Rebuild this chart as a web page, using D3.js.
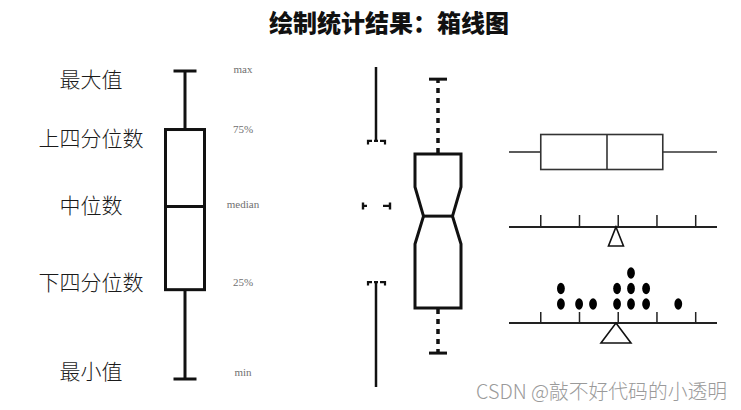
<!DOCTYPE html>
<html>
<head>
<meta charset="utf-8">
<script src="https://cdn.jsdelivr.net/npm/d3@7"></script>
<style>
  html, body { margin: 0; padding: 0; background: #fff; }
  svg { display: block; }
</style>
</head>
<body>
<svg id="chart" width="741" height="410"></svg>
<script>
// ---------------- data ----------------
const title = "绘制统计结果：箱线图";
const watermark = "CSDN @敲不好代码的小透明";

// Panel 1: classic box plot (value units 0..100)
const statNamesCN = ["最大值", "上四分位数", "中位数", "下四分位数", "最小值"];
const statNamesEN = ["max", "75%", "median", "25%", "min"];
const boxValues = [100, 81, 56, 29, 0];          // max, q3, median, q1, min
const cnLabelValues = [97.4, 78.2, 56.2, 31.2, 2.6];
const enLabelValues = [100.5, 81, 56.5, 31.2, 2];

// Panel 2: notched box plot (value units 0..100)
const notchValues = { max: 96.2, q3: 72.8, notchHi: 62.5, median: 53.4, notchLo: 44.7, q1: 24.7, min: 10.6 };
// Panel 2b: minimal (Tufte) box plot
const minimalValues = { max: 100, q3: 76.9, median: 56.6, q1: 32.8, min: 0 };

// Panel 3: horizontal box plot, number lines and dot plot
const tickValues = [1, 2, 3, 4, 5];
const hBoxValues = [0.18, 1.0, 2.71, 4.15, 5.55]; // min, q1, median, q3, max
const dotValues = [1.52, 1.52, 1.99, 2.35, 2.97, 2.97, 3.33, 3.33, 3.33, 3.72, 3.72, 4.55];

// ---------------- drawing ----------------
const svg = d3.select("#chart");

svg.append("text")
  .attr("x", 389).attr("y", 32)
  .attr("text-anchor", "middle")
  .style("font-family", "'Noto Sans CJK SC', sans-serif")
  .style("font-weight", 900)
  .style("font-size", "24px")
  .attr("fill", "#111")
  .text(title);

// ---- Panel 1 ----
const y1 = d3.scaleLinear().domain([0, 100]).range([379, 71]);
const p1 = svg.append("g");
const bx = 185, bw = 39, capW = 23;
const [vMax, vQ3, vMed, vQ1, vMin] = boxValues;
const s1 = { stroke: "#111", "stroke-width": 3, fill: "none" };
function applyAttrs(sel, o) { Object.entries(o).forEach(([k, v]) => sel.attr(k, v)); return sel; }

applyAttrs(p1.append("line").attr("x1", bx).attr("x2", bx).attr("y1", y1(vMax)).attr("y2", y1(vQ3)), s1);
applyAttrs(p1.append("line").attr("x1", bx).attr("x2", bx).attr("y1", y1(vQ1)).attr("y2", y1(vMin)), s1);
applyAttrs(p1.append("line").attr("x1", bx - capW / 2).attr("x2", bx + capW / 2).attr("y1", y1(vMax)).attr("y2", y1(vMax)), s1);
applyAttrs(p1.append("line").attr("x1", bx - capW / 2).attr("x2", bx + capW / 2).attr("y1", y1(vMin)).attr("y2", y1(vMin)), s1);
applyAttrs(p1.append("rect").attr("x", bx - bw / 2).attr("width", bw).attr("y", y1(vQ3)).attr("height", y1(vQ1) - y1(vQ3)), s1);
applyAttrs(p1.append("line").attr("x1", bx - bw / 2).attr("x2", bx + bw / 2).attr("y1", y1(vMed)).attr("y2", y1(vMed)), s1);

p1.selectAll("text.cn").data(statNamesCN).join("text")
  .attr("class", "cn")
  .attr("x", 91).attr("y", (d, i) => y1(cnLabelValues[i]))
  .attr("dy", "0.36em")
  .attr("text-anchor", "middle")
  .style("font-family", "'Noto Sans CJK SC', sans-serif")
  .style("font-weight", 300)
  .style("font-size", "21px")
  .attr("fill", "#1a1a1a")
  .text(d => d);

p1.selectAll("text.en").data(statNamesEN).join("text")
  .attr("class", "en")
  .attr("x", 243).attr("y", (d, i) => y1(enLabelValues[i]))
  .attr("dy", "0.3em")
  .attr("text-anchor", "middle")
  .style("font-family", "'Liberation Serif', serif")
  .style("font-size", "11px")
  .attr("fill", "#707070")
  .text(d => d);

// ---- Panel 2: notched box ----
const y2 = d3.scaleLinear().domain([0, 100]).range([387, 67]);
const p2 = svg.append("g");
const nx = 438, nw = 46, nInner = 29, nCap = 18;
const s2 = { stroke: "#111", "stroke-width": 3, fill: "none", "stroke-linejoin": "miter" };
const nv = notchValues;
const notchPath = d3.path();
notchPath.moveTo(nx - nw / 2, y2(nv.q3));
notchPath.lineTo(nx + nw / 2, y2(nv.q3));
notchPath.lineTo(nx + nw / 2, y2(nv.notchHi));
notchPath.lineTo(nx + nInner / 2, y2(nv.median));
notchPath.lineTo(nx + nw / 2, y2(nv.notchLo));
notchPath.lineTo(nx + nw / 2, y2(nv.q1));
notchPath.lineTo(nx - nw / 2, y2(nv.q1));
notchPath.lineTo(nx - nw / 2, y2(nv.notchLo));
notchPath.lineTo(nx - nInner / 2, y2(nv.median));
notchPath.lineTo(nx - nw / 2, y2(nv.notchHi));
notchPath.closePath();
applyAttrs(p2.append("path").attr("d", notchPath.toString()), s2);
applyAttrs(p2.append("line").attr("x1", nx - nInner / 2).attr("x2", nx + nInner / 2).attr("y1", y2(nv.median)).attr("y2", y2(nv.median)), s2);
// dashed whiskers
const dashW = { stroke: "#111", "stroke-width": 3.5, "stroke-dasharray": "5,5" };
applyAttrs(p2.append("line").attr("x1", nx).attr("x2", nx).attr("y1", y2(nv.q3) - 1).attr("y2", y2(nv.max)), dashW);
applyAttrs(p2.append("line").attr("x1", nx).attr("x2", nx).attr("y1", y2(nv.q1) + 1).attr("y2", y2(nv.min)), dashW);
applyAttrs(p2.append("line").attr("x1", nx - nCap / 2).attr("x2", nx + nCap / 2).attr("y1", y2(nv.max)).attr("y2", y2(nv.max)), s2);
applyAttrs(p2.append("line").attr("x1", nx - nCap / 2).attr("x2", nx + nCap / 2).attr("y1", y2(nv.min)).attr("y2", y2(nv.min)), s2);

// ---- Panel 2b: minimal box plot ----
const mx = 376;
const mv = minimalValues;
const s3 = { stroke: "#111", "stroke-width": 2.5, fill: "none" };
applyAttrs(p2.append("line").attr("x1", mx).attr("x2", mx).attr("y1", y2(mv.max)).attr("y2", y2(mv.q3)), s3);
applyAttrs(p2.append("line").attr("x1", mx).attr("x2", mx).attr("y1", y2(mv.q1)).attr("y2", y2(mv.min)), s3);
// hooks at q3 and q1
[mv.q3, mv.q1].forEach(v => {
  const yy = y2(v);
  const hp = d3.path();
  hp.moveTo(mx - 8, yy + 3.5); hp.lineTo(mx - 8, yy); hp.lineTo(mx - 4, yy);
  hp.moveTo(mx + 4, yy); hp.lineTo(mx + 9, yy); hp.lineTo(mx + 9, yy + 3.5);
  hp.moveTo(mx - 2, yy); hp.lineTo(mx + 2, yy);
  applyAttrs(p2.append("path").attr("d", hp.toString()), { stroke: "#111", "stroke-width": 2.2, fill: "none" });
});
// median marks
{
  const yy = y2(mv.median);
  const hp = d3.path();
  hp.moveTo(mx - 13, yy - 3.5); hp.lineTo(mx - 13, yy + 3.5);
  hp.moveTo(mx - 13, yy); hp.lineTo(mx - 9, yy);
  hp.moveTo(mx + 7, yy); hp.lineTo(mx + 14, yy);
  hp.moveTo(mx + 14, yy - 3.5); hp.lineTo(mx + 14, yy + 3.5);
  applyAttrs(p2.append("path").attr("d", hp.toString()), { stroke: "#111", "stroke-width": 2.4, fill: "none" });
}

// ---- Panel 3 ----
const x3 = d3.scaleLinear().domain([0.18, 5.55]).range([509, 717]);
const p3 = svg.append("g");
const lineColor = "#222";
// horizontal box
const [hMin, hQ1, hMed, hQ3, hMax] = hBoxValues;
const hy = 152, hh = 35;
const s4 = { stroke: "#333", "stroke-width": 1.6, fill: "none" };
applyAttrs(p3.append("line").attr("x1", x3(hMin)).attr("x2", x3(hQ1)).attr("y1", hy).attr("y2", hy), s4);
applyAttrs(p3.append("line").attr("x1", x3(hQ3)).attr("x2", x3(hMax)).attr("y1", hy).attr("y2", hy), s4);
applyAttrs(p3.append("rect").attr("x", x3(hQ1)).attr("width", x3(hQ3) - x3(hQ1)).attr("y", hy - hh / 2).attr("height", hh), s4);
applyAttrs(p3.append("line").attr("x1", x3(hMed)).attr("x2", x3(hMed)).attr("y1", hy - hh / 2).attr("y2", hy + hh / 2), s4);

const mean = d3.mean(dotValues);

function numberLine(yAxis, tickLen, triW, triH) {
  const g = p3.append("g");
  g.append("line").attr("x1", x3.range()[0]).attr("x2", x3.range()[1])
    .attr("y1", yAxis).attr("y2", yAxis)
    .attr("stroke", lineColor).attr("stroke-width", 2);
  g.selectAll("line.tick").data(tickValues).join("line")
    .attr("class", "tick")
    .attr("x1", d => x3(d)).attr("x2", d => x3(d))
    .attr("y1", yAxis).attr("y2", yAxis - tickLen)
    .attr("stroke", lineColor).attr("stroke-width", 1.5);
  const cx = x3(mean);
  g.append("path")
    .attr("d", `M${cx},${yAxis} L${cx + triW / 2},${yAxis + triH} L${cx - triW / 2},${yAxis + triH} Z`)
    .attr("fill", "#fff").attr("stroke", "#111").attr("stroke-width", 1.6)
    .attr("stroke-linejoin", "miter");
  return g;
}
numberLine(227, 12, 15, 19);
numberLine(323, 11, 30, 20);

// dot plot (stacked)
const counts = {};
const dots = dotValues.map(v => {
  const k = v.toFixed(2);
  counts[k] = (counts[k] || 0) + 1;
  return { v, level: counts[k] - 1 };
});
p3.selectAll("ellipse.dot").data(dots).join("ellipse")
  .attr("class", "dot")
  .attr("cx", d => x3(d.v))
  .attr("cy", d => 304 - d.level * 15.5)
  .attr("rx", 3.9).attr("ry", 5.8)
  .attr("fill", "#000");

// watermark
svg.append("text")
  .attr("x", 727).attr("y", 399)
  .attr("text-anchor", "end")
  .style("font-family", "'Noto Sans CJK SC', sans-serif")
  .style("font-weight", 300)
  .style("font-size", "20px")
  .attr("textLength", 251)
  .attr("lengthAdjust", "spacingAndGlyphs")
  .attr("fill", "#9a9a9a")
  .text(watermark);
</script>
</body>
</html>
